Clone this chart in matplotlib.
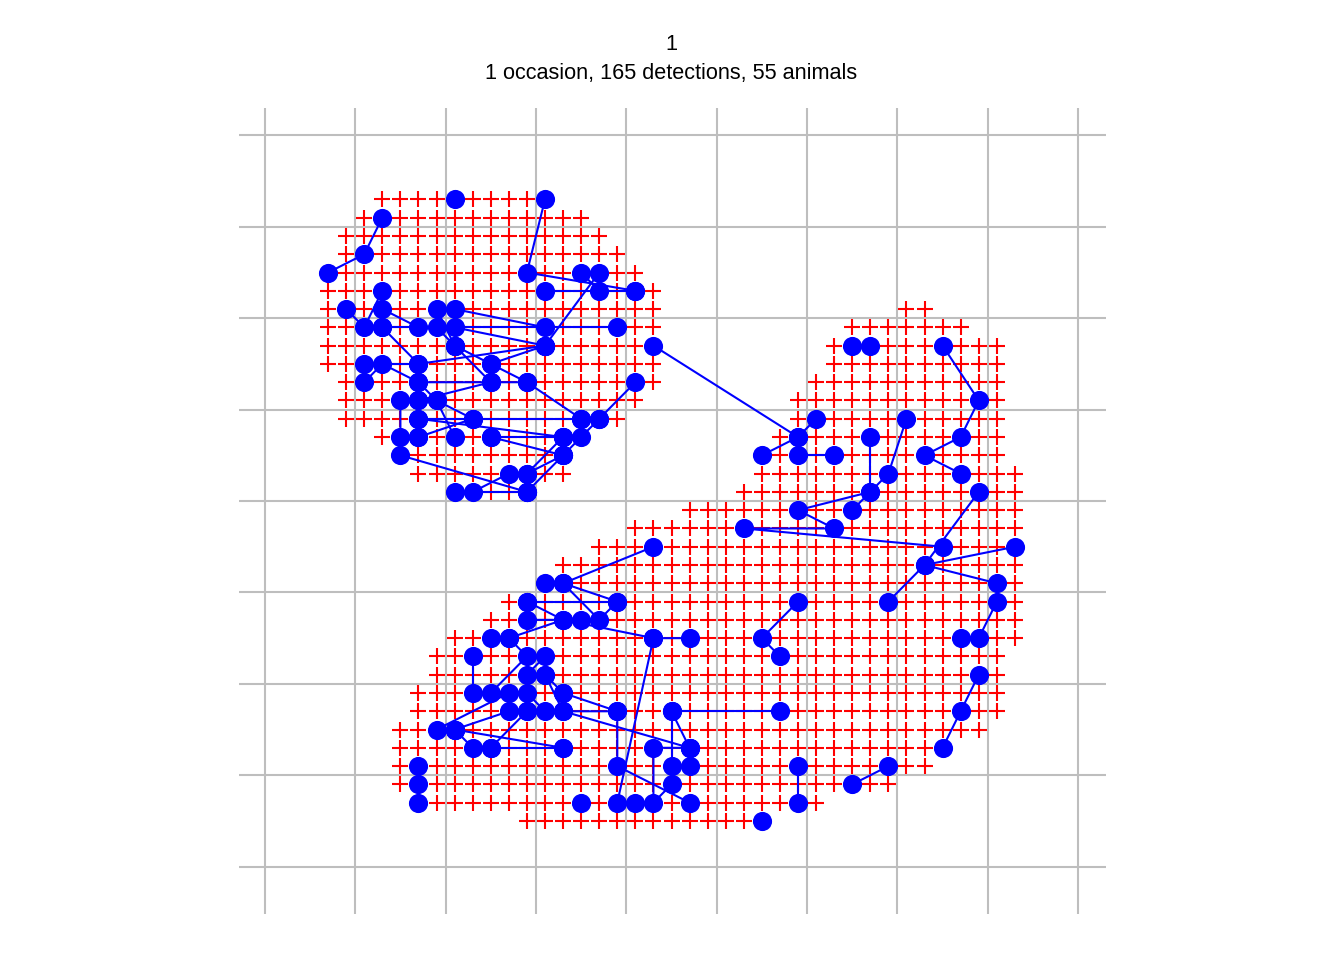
"""Detector array with one occasion of capture tracks (trap col/row units)."""
import matplotlib
matplotlib.use("Agg")
import matplotlib.pyplot as plt

# detector rows as (first col, last col), one entry per row
upper_rows = list(range(0, 17))
upper_first = [3, 2, 1, 1, 0, 0, 0, 0, 0, 0, 1, 1, 1, 3, 4, 5, 7]
upper_last = [12, 14, 15, 16, 17, 18, 18, 18, 18, 18, 18, 17, 16, 14, 13, 13, 11]

right_rows = list(range(6, 17))
right_first = [32, 29, 28, 28, 27, 26, 26, 25, 24, 24, 23]
right_last = [33, 35, 37, 37, 37, 37, 37, 37, 37, 38, 38]

lower_rows = list(range(17, 35))
lower_first = [20, 17, 15, 13, 12, 10, 9, 7, 6, 6, 5, 5, 4, 4, 4, 4, 5, 11]
lower_last = [38, 38, 38, 38, 38, 38, 38, 38, 37, 37, 37, 37, 36, 34, 33, 31, 27, 24]

# capture tracks, each one a list of (col, row)
upper_tracks = [
    [(7, 0)],
    [(12, 0), (11, 4), (17, 5)],
    [(3, 1), (2, 3), (0, 4)],
    [(12, 5), (17, 5)],
    [(14, 4), (15, 5)],
    [(15, 4), (12, 8)],
    [(3, 5), (2, 7), (1, 6)],
    [(3, 6), (5, 7)],
    [(3, 7), (16, 7)],
    [(3, 7), (5, 9), (12, 8)],
    [(7, 6), (12, 7)],
    [(7, 7), (12, 8)],
    [(6, 6), (7, 8)],
    [(6, 7), (7, 8), (9, 9), (12, 8)],
    [(7, 8), (9, 10)],
    [(9, 9), (11, 10), (14, 12)],
    [(15, 12), (17, 10)],
    [(2, 9), (5, 9)],
    [(2, 10), (3, 9), (5, 10), (11, 10)],
    [(5, 11), (9, 10)],
    [(5, 10), (6, 11), (8, 12)],
    [(6, 11), (7, 13)],
    [(4, 11), (4, 13), (4, 14), (11, 16)],
    [(5, 12), (14, 12)],
    [(5, 12), (13, 13)],
    [(5, 13), (8, 12)],
    [(9, 13), (13, 13)],
    [(9, 13), (13, 14)],
    [(8, 16), (10, 15)],
    [(7, 16), (11, 16)],
    [(11, 15), (13, 13)],
    [(11, 15), (13, 14), (11, 16)],
    [(13, 14), (15, 12)],
    [(14, 13)],
    [(5, 11), (5, 13)],
    [(18, 8), (26, 13)],
]

right_tracks = [
    [(29, 8)],
    [(30, 8)],
    [(34, 8), (36, 11), (35, 13), (33, 14), (35, 15)],
    [(24, 14), (26, 13), (27, 12)],
    [(26, 14), (28, 14)],
    [(30, 13), (30, 16)],
    [(32, 12), (31, 15), (29, 17)],
    [(30, 16), (26, 17), (28, 18), (23, 18), (34, 19)],
    [(36, 16), (33, 20), (31, 22)],
    [(38, 19), (33, 20), (37, 21), (37, 22), (36, 24)],
    [(35, 24)],
    [(36, 26), (35, 28), (34, 30)],
    [(31, 31), (29, 32)],
    [(26, 22), (24, 24), (25, 25)],
    [(26, 31), (26, 33)],
    [(24, 34)],
]

lower_tracks = [
    [(18, 19), (13, 21), (16, 22), (15, 23), (13, 21)],
    [(12, 21)],
    [(11, 22), (16, 22)],
    [(11, 22), (13, 23), (11, 23)],
    [(14, 23)],
    [(9, 24), (10, 24), (13, 23), (18, 24), (20, 24)],
    [(18, 24), (16, 33)],
    [(10, 24), (11, 25), (9, 27)],
    [(12, 25), (11, 26)],
    [(8, 25), (8, 27)],
    [(12, 26), (13, 27)],
    [(12, 26), (13, 28)],
    [(11, 27), (12, 28)],
    [(7, 29), (8, 30)],
    [(6, 29), (10, 27)],
    [(7, 29), (10, 28)],
    [(7, 29), (13, 30)],
    [(9, 30), (11, 28)],
    [(9, 30), (13, 30)],
    [(13, 27), (16, 28)],
    [(11, 28), (16, 28), (16, 31), (20, 33)],
    [(13, 28), (20, 30)],
    [(25, 28), (19, 28), (19, 31)],
    [(19, 28), (20, 30), (18, 30), (18, 33), (19, 32)],
    [(20, 30), (20, 31)],
    [(5, 31), (5, 32), (5, 33)],
    [(14, 33)],
    [(17, 33)],
]

grid_cols = [-3.5, 1.5, 6.5, 11.5, 16.5, 21.5, 26.5, 31.5, 36.5, 41.5]
grid_rows = [-3.5, 1.5, 6.5, 11.5, 16.5, 21.5, 26.5, 31.5, 36.5]

title_lines = ["1", "1 occasion, 165 detections, 55 animals"]

W, H = 1344, 960
plt.rcParams["font.family"] = ["Liberation Sans", "DejaVu Sans"]

fig = plt.figure(figsize=(W / 100, H / 100), dpi=100)
ax = fig.add_axes([239 / W, 1 - 914 / H, (1106 - 239) / W, (914 - 108) / H])
ax.set_xlim(-4.93, 43.04)
ax.set_ylim(39.09, -5.0)
ax.set_xticks(grid_cols)
ax.set_yticks(grid_rows)
ax.tick_params(length=0, labelbottom=False, labelleft=False)
ax.grid(True, color="#BEBEBE", lw=1.5)
ax.set_axisbelow(True)
for s in ax.spines.values():
    s.set_visible(False)

# detectors
for rows, first, last in [(upper_rows, upper_first, upper_last),
                          (right_rows, right_first, right_last),
                          (lower_rows, lower_first, lower_last)]:
    for r, a, b in zip(rows, first, last):
        cols = list(range(a, b + 1))
        ax.plot(cols, [r] * len(cols), ls="none", marker="+", ms=11.8, mew=1.5,
                color="#FF0000", zorder=2)

# tracks, dots on top of every line
for track in upper_tracks + right_tracks + lower_tracks:
    xs = [p[0] for p in track]
    ys = [p[1] for p in track]
    ax.plot(xs, ys, color="#0000FF", lw=1.5, zorder=3)
    ax.plot(xs, ys, ls="none", marker="o", ms=13.8, mew=0, color="#0000FF", zorder=4)

fig.text(671 / W, 1 - 44 / H, title_lines[0], ha="center", va="center", fontsize=15.6)
fig.text(671 / W, 1 - 74 / H, title_lines[1], ha="center", va="center", fontsize=15.6)

fig.savefig("out.png", dpi=100)
